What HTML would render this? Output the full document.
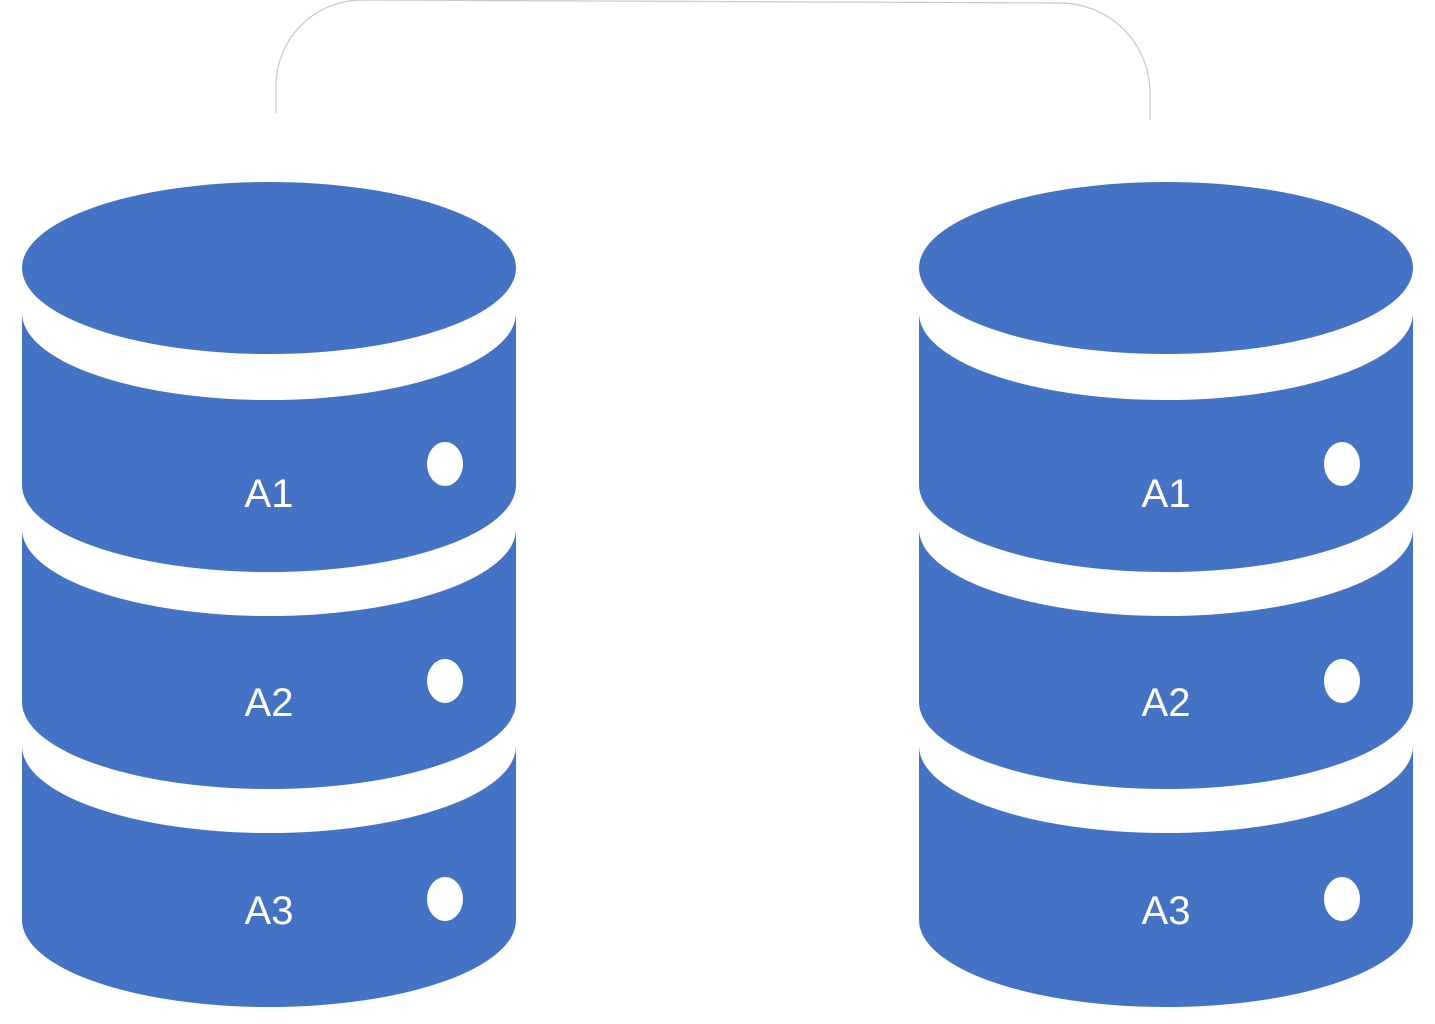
<!DOCTYPE html>
<html><head><meta charset="utf-8"><style>
html,body{margin:0;padding:0;background:#fff;width:1435px;height:1024px;overflow:hidden}
svg{display:block}
text{font-family:"Liberation Sans",sans-serif;font-size:40px;fill:#fff;text-anchor:middle}
</style></head><body>
<svg width="1435" height="1024" viewBox="0 0 1435 1024" xmlns="http://www.w3.org/2000/svg">
<path d="M276,113 L276,86 A86,86 0 0 1 362,0 L1060,3 A90,90 0 0 1 1150,93 L1150,120" fill="none" stroke="#c8c8c8" stroke-width="1.2"/>
<defs>
<g id="cyl">
<ellipse cx="269" cy="268" rx="247" ry="86" fill="#4472C4"/>
<path d="M22,313 A247,87 0 0 0 516,313 L516,485 A247,87 0 0 1 22,485 Z" fill="#4472C4"/>
<path d="M22,529 A247,87 0 0 0 516,529 L516,702 A247,87 0 0 1 22,702 Z" fill="#4472C4"/>
<path d="M22,746 A247,87 0 0 0 516,746 L516,920 A247,87 0 0 1 22,920 Z" fill="#4472C4"/>
<ellipse cx="445" cy="464" rx="18" ry="22" fill="#fff"/>
<ellipse cx="445" cy="681" rx="18" ry="22" fill="#fff"/>
<ellipse cx="445" cy="899" rx="18" ry="22" fill="#fff"/>
<text x="269" y="507">A1</text>
<text x="269" y="716">A2</text>
<text x="269" y="924">A3</text>
</g>
</defs>
<use href="#cyl"/>
<use href="#cyl" x="897"/>
</svg>
</body></html>
